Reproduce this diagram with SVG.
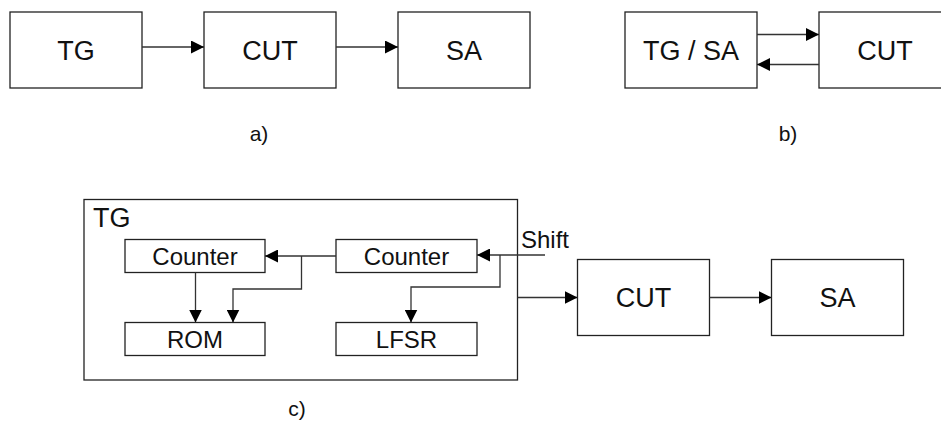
<svg xmlns="http://www.w3.org/2000/svg" width="941" height="437" viewBox="0 0 941 437">
<style>
.box{fill:#fff;stroke:#222;stroke-width:1.3}
.ln{fill:none;stroke:#333;stroke-width:1.3}
.big{font-family:"Liberation Sans",Arial,sans-serif;font-size:27px;fill:#111;text-anchor:middle}
.mid{font-family:"Liberation Sans",Arial,sans-serif;font-size:24px;fill:#111;text-anchor:middle}
.lbl{font-family:"Liberation Sans",Arial,sans-serif;font-size:21px;fill:#111;text-anchor:middle}
</style>
<defs>
<marker id="ah" markerUnits="userSpaceOnUse" markerWidth="14" markerHeight="13" refX="13" refY="6.5" orient="auto">
<path d="M0,0 L13,6.5 L0,13 z" fill="#000"/>
</marker>
</defs>
<rect width="941" height="437" fill="#fff"/>
<g id="a-tg"><rect class="box" x="10" y="12" width="132" height="76"/><text class="big" x="76" y="60">TG</text></g>
<g id="a-cut"><rect class="box" x="204" y="12" width="132" height="76"/><text class="big" x="270" y="60">CUT</text></g>
<g id="a-sa"><rect class="box" x="398" y="12" width="132" height="76"/><text class="big" x="464" y="60">SA</text></g>
<g id="b-tgsa"><rect class="box" x="625" y="12" width="132" height="76"/><text class="big" x="691" y="60">TG / SA</text></g>
<g id="b-cut"><rect class="box" x="819" y="12" width="132" height="76"/><text class="big" x="885" y="60">CUT</text></g>
<g id="c-tg"><rect class="box" x="84" y="199.5" width="433.5" height="180.5"/><text class="big" x="93" y="227" style="text-anchor:start">TG</text></g>
<g id="c-counter1"><rect class="box" x="125" y="239.5" width="140" height="33"/><text class="mid" x="195" y="265">Counter</text></g>
<g id="c-counter2"><rect class="box" x="336" y="239.5" width="141" height="33"/><text class="mid" x="406.5" y="265">Counter</text></g>
<g id="c-rom"><rect class="box" x="125" y="322.5" width="140" height="33"/><text class="mid" x="195" y="348">ROM</text></g>
<g id="c-lfsr"><rect class="box" x="336" y="322.5" width="141" height="33"/><text class="mid" x="406.5" y="348">LFSR</text></g>
<g id="c-cut"><rect class="box" x="577.5" y="259.5" width="132" height="76"/><text class="big" x="643.5" y="307">CUT</text></g>
<g id="c-sa"><rect class="box" x="771.5" y="259.5" width="132" height="76"/><text class="big" x="837.5" y="307">SA</text></g>
<g id="connectors">
<line class="ln" x1="142" y1="47" x2="204" y2="47" marker-end="url(#ah)"/>
<line class="ln" x1="336" y1="47" x2="398" y2="47" marker-end="url(#ah)"/>
<line class="ln" x1="757" y1="34.5" x2="819" y2="34.5" marker-end="url(#ah)"/>
<line class="ln" x1="819" y1="64.5" x2="757" y2="64.5" marker-end="url(#ah)"/>
<line class="ln" x1="336" y1="256" x2="265" y2="256" marker-end="url(#ah)"/>
<polyline class="ln" points="301.5,256 301.5,289 233,289 233,322.5" marker-end="url(#ah)"/>
<line class="ln" x1="195.5" y1="272.5" x2="195.5" y2="322.5" marker-end="url(#ah)"/>
<line class="ln" x1="545" y1="255" x2="477" y2="255" marker-end="url(#ah)"/>
<polyline class="ln" points="500,255 500,287 411,287 411,322.5" marker-end="url(#ah)"/>
<line class="ln" x1="517.5" y1="297.5" x2="577.5" y2="297.5" marker-end="url(#ah)"/>
<line class="ln" x1="709.5" y1="297.5" x2="771.5" y2="297.5" marker-end="url(#ah)"/>
</g>
<text class="mid" x="521" y="248" style="text-anchor:start">Shift</text>
<text class="lbl" x="259" y="141">a)</text>
<text class="lbl" x="788" y="141">b)</text>
<text class="lbl" x="297" y="416">c)</text>
</svg>
